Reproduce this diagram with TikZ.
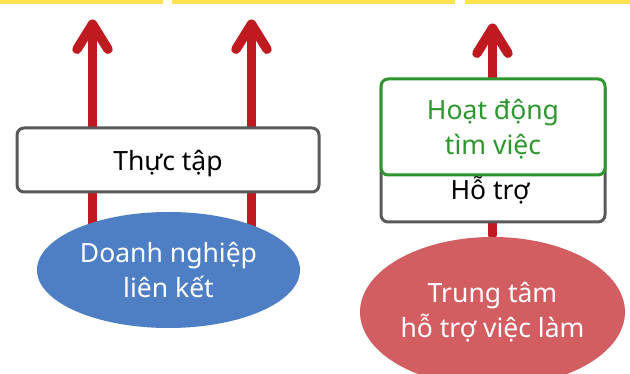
\documentclass[tikz,border=0pt]{standalone}
\usepackage{fontspec}
\setmainfont{Noto Sans}
\usetikzlibrary{arrows.meta,shapes.geometric,backgrounds}
\definecolor{barYellow}{RGB}{255,226,80}
\definecolor{arrowRed}{RGB}{192,26,33}
\definecolor{boxGray}{RGB}{89,89,89}
\definecolor{hopGreen}{RGB}{46,150,46}
\definecolor{dnBlue}{RGB}{78,126,196}
\definecolor{ttRed}{RGB}{211,94,98}
\tikzset{
  upArrow/.style={arrowRed, line width=9.5pt, line cap=round,
    -{Straight Barb[round,length=25pt,width=31pt]}},
  hopbox/.style={draw=boxGray, line width=3pt, fill=white, rounded corners=7pt,
    align=center, font=\fontsize{26.5}{35}\selectfont},
  greenbox/.style={hopbox, draw=hopGreen, text=hopGreen},
  bubble/.style={ellipse, draw=none, text=white, align=center, inner sep=0pt,
    font=\fontsize{26.5}{35}\selectfont}
}
\begin{document}
\begin{tikzpicture}[x=1pt,y=-1pt]
\useasboundingbox (0,0) rectangle (630,374);
\begin{scope}
\clip (0,0) rectangle (630,374);
% thanh vang phia tren
\fill[barYellow] (0,0) rectangle (163,4.5);
\fill[barYellow] (172,0) rectangle (455,4.5);
\fill[barYellow] (465,0) rectangle (630,4.5);

% ben trai
\node[hopbox, minimum width=302pt, minimum height=64pt, text depth=0pt] (thuctap) at (168,160) {Thực tập};
\node[bubble, fill=dnBlue, minimum width=263pt, minimum height=116pt] (doanhnghiep) at (168.5,270) {Doanh nghiệp\\liên kết};

% ben phai
\node[hopbox, minimum width=224pt, minimum height=140pt] (hotro) at (493,152) {};
\node[anchor=base] (hotrotext) at (490,199.5) {\fontsize{26.5}{35}\selectfont Hỗ trợ};
\node[greenbox, minimum width=224pt, minimum height=96pt, text depth=0pt] (timviec) at (493,127) {Hoạt động\\tìm việc};
\node[bubble, fill=ttRed, minimum width=265pt, minimum height=150pt] (trungtam) at (492.5,312) {Trung tâm\\hỗ trợ việc làm};

\coordinate (top1) at (92.5,19.5);
\coordinate (top2) at (251.5,19.5);
\coordinate (top3) at (492.5,23.5);
\coordinate (foot1) at (92.5,250);
\coordinate (foot2) at (251.5,250);
\coordinate (foot3) at (492.5,235);

\begin{pgfonlayer}{background}
\draw[upArrow] (foot1) -- (top1);
\draw[upArrow] (foot2) -- (top2);
\draw[upArrow] (foot3) -- (top3);
\end{pgfonlayer}
\end{scope}
\end{tikzpicture}
\end{document}
